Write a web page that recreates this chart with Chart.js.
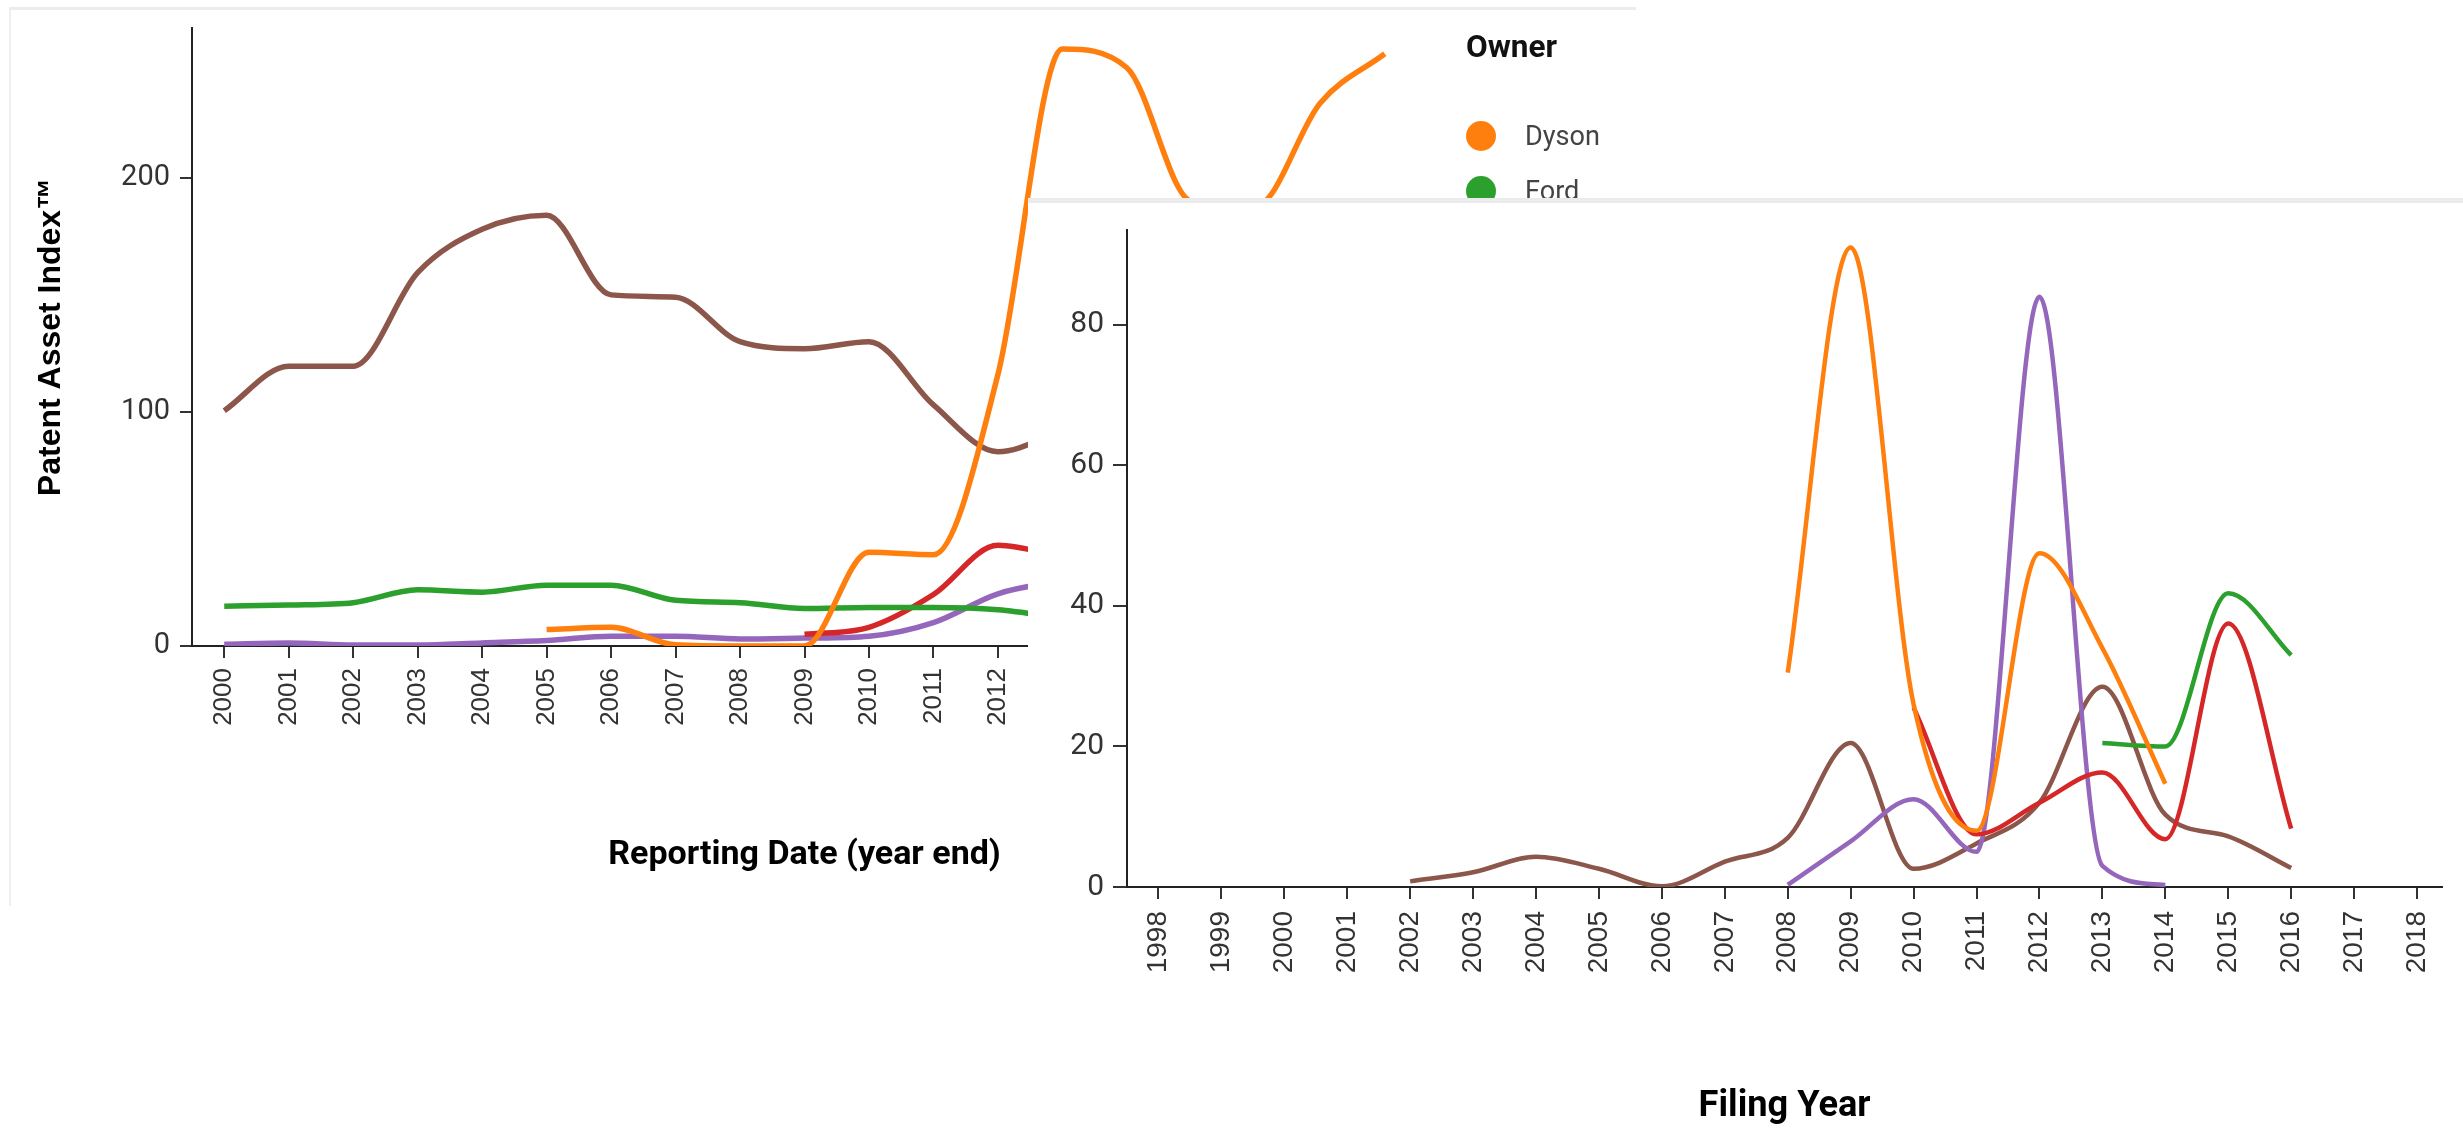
<!DOCTYPE html>
<html>
<head>
<meta charset="utf-8">
<title>Patent Asset Index</title>
<script src="https://cdn.jsdelivr.net/npm/chart.js@4.4.1/dist/chart.umd.min.js"></script>
<style>
    html, body { margin: 0; padding: 0; background: #fff; }
    body { width: 2463px; height: 1129px; position: relative; overflow: hidden; }
    #backPanel { position: absolute; left: 9px; top: 7px; width: 1625px; height: 896px; border-top: 3px solid #ececec; border-left: 2px solid #efefef; }
    #backChart { position: absolute; left: 0; top: 0; }
    #legend { position: absolute; left: 1466px; top: 22px; font-family: Roboto, "Liberation Sans", sans-serif; }
    #legend .title { font-weight: bold; color: #111; height: 50px; line-height: 50px; margin-bottom: 36px; }
    #legend .item { display: flex; align-items: center; height: 55px; color: #444; }
    #legend .dot { width: 30px; height: 30px; border-radius: 50%; margin-right: 29px; }
    #frontPanel { position: absolute; left: 1028px; top: 198px; width: 1435px; height: 931px; box-sizing: border-box; background: #fff; border-top: 5px solid #ebebeb; }
    #frontChart { position: absolute; left: 0; top: 0; }
</style>
</head>
<body>
<div id="backPanel"></div>
<canvas id="backChart" width="1634" height="903"></canvas>
<div id="legend"></div>
<div id="frontPanel">
    <canvas id="frontChart" width="1435" height="926"></canvas>
</div>

<script>
// Gráfico de fondo: Patent Asset Index por año de reporte
const backYears = [2000, 2001, 2002, 2003, 2004, 2005, 2006, 2007, 2008, 2009, 2010, 2011, 2012, 2013, 2014, 2015, 2016, 2017, 2018];
const backYTicks = [0, 100, 200];
const dysonBack = [null, null, null, null, null, 7, 8, 0.5, 0, 0, 40, 39, 116, 255, 247, 190, 188, 232, 253];
const fordBack = [17, 17.5, 18.5, 24, 23, 26, 26, 19.5, 18.5, 16, 16.5, 16.5, 15.5, 12, null, null, null, null, null];
const redBack = [null, null, null, null, null, null, null, null, null, 5, 8, 22, 43, 38, null, null, null, null, null];
const purpleBack = [0.7, 1.3, 0.4, 0.4, 1.3, 2.3, 4.2, 4.2, 3, 3.4, 4.2, 10, 22.3, 28, null, null, null, null, null];
const brownBack = [100.5, 119.5, 119.5, 159.5, 178, 184, 150, 149, 130, 127, 130, 103, 83, 92, null, null, null, null, null];

// Gráfico delantero: por año de solicitud
const frontYears = [1998, 1999, 2000, 2001, 2002, 2003, 2004, 2005, 2006, 2007, 2008, 2009, 2010, 2011, 2012, 2013, 2014, 2015, 2016, 2017, 2018];
const frontYTicks = [0, 20, 40, 60, 80];
const dysonFront = [null, null, null, null, null, null, null, null, null, null, 30.5, 91, 26, 8, 47.5, 34, 14.7, null, null, null, null];
const fordFront = [null, null, null, null, null, null, null, null, null, null, null, null, null, null, null, 20.5, 20, 41.8, 33, null, null];
const redFront = [null, null, null, null, null, null, null, null, null, null, null, null, 25.5, 7.5, 12, 16.3, 6.8, 37.5, 8.3, null, null];
const purpleFront = [null, null, null, null, null, null, null, null, null, null, 0.3, 6.5, 12.5, 5, 84, 3, 0.3, null, null, null, null];
const brownFront = [null, null, null, null, 0.8, 2.1, 4.3, 2.6, 0.1, 3.6, 7, 20.5, 2.6, 6.2, 12, 28.5, 10.3, 7.2, 2.7, null, null];

const COLORS = { orange: "#ff7f0e", green: "#2ca02c", red: "#d62728", purple: "#9467bd", brown: "#8c564b" };
const TITLE_FONT = 'Roboto, "Liberation Sans", sans-serif';
const SANS = '"Liberation Sans", Arial, sans-serif';

// Tamaño de fuente para que un texto ocupe el ancho del original
const measureCtx = document.createElement("canvas").getContext("2d");
function fitSize(text, weight, family, width) {
    measureCtx.font = weight + " 100px " + family;
    return Math.round(1000 * width / measureCtx.measureText(text).width) / 10;
}

function series(label, years, values, color, width) {
    return {
        label: label,
        data: years.map((x, i) => ({ x: x, y: values[i] })),
        borderColor: color,
        backgroundColor: color,
        borderWidth: width,
        pointRadius: 0,
        cubicInterpolationMode: "monotone",
        spanGaps: false,
        fill: false
    };
}

function axisOptions(cfg) {
    return {
        type: "linear",
        min: cfg.min,
        max: cfg.max,
        afterFit: cfg.afterFit,
        afterBuildTicks: scale => { scale.ticks = cfg.ticks.map(v => ({ value: v })); },
        ticks: {
            autoSkip: false,
            minRotation: cfg.rotation || 0,
            maxRotation: cfg.rotation || 0,
            padding: cfg.padding,
            color: "#333",
            font: cfg.font,
            callback: v => String(v)
        },
        grid: { drawOnChartArea: false, drawTicks: true, tickLength: cfg.tickLength, color: "#333", lineWidth: 2 },
        border: { display: true, color: "#222", width: 2 },
        title: cfg.title || { display: false }
    };
}

const reportingTitle = "Reporting Date (year end)";
const filingTitle = "Filing Year";

const backChart = new Chart(document.getElementById("backChart"), {
    type: "line",
    data: {
        datasets: [
            series("Dyson", backYears, dysonBack, COLORS.orange, 5.5),
            series("Ford", backYears, fordBack, COLORS.green, 5.5),
            series("", backYears, redBack, COLORS.red, 5.5),
            series("", backYears, purpleBack, COLORS.purple, 5.5),
            series("", backYears, brownBack, COLORS.brown, 5.5)
        ]
    },
    options: {
        responsive: false,
        animation: false,
        layout: { padding: { left: 0, top: 28, right: 217, bottom: 0 } },
        plugins: { legend: { display: false }, tooltip: { enabled: false } },
        scales: {
            x: axisOptions({
                min: 1999.5, max: 2018.5, ticks: backYears, rotation: 90, padding: 10, tickLength: 12,
                font: { family: SANS, size: 26 },
                afterFit: s => { s.height = 257; },
                title: { display: true, text: reportingTitle, color: "#000",
                    font: { family: TITLE_FONT, size: fitSize(reportingTitle, "bold", TITLE_FONT, 393), weight: "bold" },
                    padding: { top: 0, bottom: 27 } }
            }),
            y: axisOptions({
                min: 0, max: 264, ticks: backYTicks, padding: 10, tickLength: 12,
                font: { family: TITLE_FONT, size: 29 },
                afterFit: s => { s.width = 192; },
                title: { display: true, text: "Patent Asset Index™", color: "#000",
                    font: { family: SANS, size: 32, weight: "bold" }, padding: { top: 32, bottom: 0 } }
            })
        }
    }
});

// Leyenda "Owner" a partir de los datasets con nombre
const legendBox = document.getElementById("legend");
legendBox.innerHTML = '<div class="title">Owner</div>';
legendBox.querySelector(".title").style.fontSize = fitSize("Owner", "bold", TITLE_FONT, 91) + "px";
const itemSize = fitSize("Dyson", "normal", TITLE_FONT, 75);
backChart.data.datasets.filter(d => d.label).forEach(d => {
    const item = document.createElement("div");
    item.className = "item";
    item.style.fontSize = itemSize + "px";
    item.innerHTML = '<span class="dot" style="background:' + d.borderColor + '"></span><span>' + d.label + '</span>';
    legendBox.appendChild(item);
});

new Chart(document.getElementById("frontChart"), {
    type: "line",
    data: {
        datasets: [
            series("Dyson", frontYears, dysonFront, COLORS.orange, 4.5),
            series("Ford", frontYears, fordFront, COLORS.green, 4.5),
            series("", frontYears, redFront, COLORS.red, 4.5),
            series("", frontYears, purpleFront, COLORS.purple, 4.5),
            series("", frontYears, brownFront, COLORS.brown, 4.5)
        ]
    },
    options: {
        responsive: false,
        animation: false,
        layout: { padding: { left: 0, top: 25, right: 20, bottom: 0 } },
        plugins: { legend: { display: false }, tooltip: { enabled: false } },
        scales: {
            x: axisOptions({
                min: 1997.5, max: 2018.4, ticks: frontYears, rotation: 90, padding: 12, tickLength: 12,
                font: { family: SANS, size: 28 },
                afterFit: s => { s.height = 242; },
                title: { display: true, text: filingTitle, color: "#000",
                    font: { family: TITLE_FONT, size: fitSize(filingTitle, "bold", TITLE_FONT, 172), weight: "bold" },
                    padding: { top: 0, bottom: 0 } }
            }),
            y: axisOptions({
                min: 0, max: 93.5, ticks: frontYTicks, padding: 9, tickLength: 14,
                font: { family: TITLE_FONT, size: 30 },
                afterFit: s => { s.width = 99; }
            })
        }
    }
});
</script>
</body>
</html>
